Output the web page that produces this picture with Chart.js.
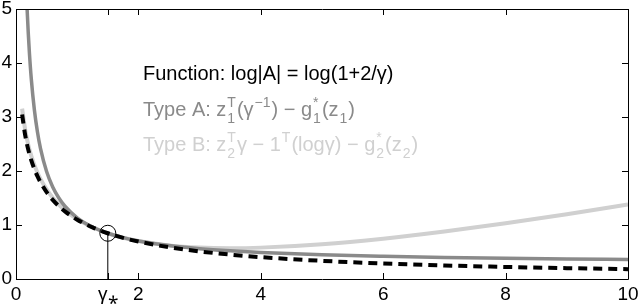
<!DOCTYPE html>
<html><head><meta charset="utf-8">
<script src="https://cdn.jsdelivr.net/npm/chart.js@4"></script>
<style>html,body{margin:0;padding:0;background:#fff;overflow:hidden}#wrap{width:640px;height:304px;position:relative}</style>
</head><body><div id="wrap"><canvas id="c" width="640" height="304"></canvas></div>
<script>
const gamma = [0.1,0.15,0.18,0.2,0.22,0.25,0.3,0.35,0.4,0.5,0.6,0.7,0.8,1.0,1.25,1.5,1.75,2,2.5,3,3.5,4,5,6,7,8,9,10];
const funcValues = [3.045,2.663,2.494,2.398,2.312,2.197,2.037,1.904,1.792,1.609,1.466,1.350,1.253,1.099,0.956,0.847,0.762,0.693,0.588,0.511,0.452,0.405,0.336,0.288,0.251,0.223,0.201,0.182];
const typeAValues = [null,null,5.037,4.561,4.171,3.704,3.133,2.725,2.419,1.990,1.704,1.500,1.347,1.133,0.962,0.847,0.766,0.705,0.619,0.562,0.521,0.490,0.447,0.419,0.398,0.383,0.371,0.362];
const typeBValues = [3.155,2.763,2.589,2.489,2.400,2.281,2.113,1.973,1.853,1.659,1.506,1.380,1.275,1.109,0.958,0.847,0.764,0.702,0.622,0.582,0.571,0.581,0.644,0.747,0.879,1.032,1.200,1.380];
const markerX = [1.5];
const markerY = [0.847];
const xTickValues = [0,1.5,2,4,6,8,10];
const xTickLabels = ['0','γ⁎','2','4','6','8','10'];
const yTickValues = [0,1,2,3,4,5];
const yTickLabels = ['0','1','2','3','4','5'];

const FAMILY = "'Liberation Sans', Arial, Helvetica, sans-serif";

const legendRows = [
  {color:'#000000', parts:[['n','Function: log|A| = log(1+2/γ)']]},
  {color:'#8a8a8a', parts:[['n','Type A: z'],['st','T','1'],['n','(γ'],['sup','−1'],['n',') − g'],['st','*','1'],['n','(z'],['sub','1'],['n',')']]},
  {color:'#d0d0d0', parts:[['n','Type B: z'],['st','T','2'],['n','γ − 1'],['sup','T'],['n','(logγ) − g'],['st','*','2'],['n','(z'],['sub','2'],['n',')']]}
];

const pts = (xs, ys) => xs.map((x,i)=>({x:x, y:ys[i]}));

const legendPlugin = {
  id:'legendText',
  afterDraw(chart){
    const ctx = chart.ctx;
    const x0 = 143, baselines = [80, 115.5, 151];
    const mainFont = '20px ' + FAMILY, smallFont = '14px ' + FAMILY;
    ctx.save();
    ctx.textBaseline = 'alphabetic';
    ctx.textAlign = 'left';
    legendRows.forEach((row, r)=>{
      let x = x0; const b = baselines[r];
      ctx.fillStyle = row.color;
      row.parts.forEach(p=>{
        if(p[0]==='n'){ ctx.font = mainFont; ctx.fillText(p[1], x, b); x += ctx.measureText(p[1]).width; }
        else if(p[0]==='sup'){ ctx.font = smallFont; ctx.fillText(p[1], x+1, b-9); x += ctx.measureText(p[1]).width+2; }
        else if(p[0]==='sub'){ ctx.font = smallFont; ctx.fillText(p[1], x+1, b+7); x += ctx.measureText(p[1]).width+2; }
        else { ctx.font = smallFont; const w1 = ctx.measureText(p[1]).width, w2 = ctx.measureText(p[2]).width;
          ctx.fillText(p[1], x+1, b-9); ctx.fillText(p[2], x+1, b+7); x += Math.max(w1,w2)+2; }
      });
    });
    ctx.restore();
  }
};

const framePlugin = {
  id:'frame',
  afterDraw(chart){
    const ctx = chart.ctx, a = chart.chartArea, xs = chart.scales.x, ys = chart.scales.y;
    ctx.save();
    ctx.strokeStyle = '#000'; ctx.lineWidth = 1;
    ctx.beginPath();
    ctx.rect(Math.round(a.left)+0.5, Math.round(a.top)+0.5, Math.round(a.right-a.left), Math.round(a.bottom-a.top));
    xTickValues.forEach(v=>{
      const px = Math.round(xs.getPixelForValue(v))+0.5;
      ctx.moveTo(px, a.bottom); ctx.lineTo(px, a.bottom-6);
      ctx.moveTo(px, a.top); ctx.lineTo(px, a.top+6);
    });
    yTickValues.forEach(v=>{
      const py = Math.round(ys.getPixelForValue(v))+0.5;
      ctx.moveTo(a.left, py); ctx.lineTo(a.left+6, py);
      ctx.moveTo(a.right, py); ctx.lineTo(a.right-6, py);
    });
    ctx.stroke();
    ctx.restore();
  }
};

new Chart(document.getElementById('c'), {
  type:'line',
  data:{datasets:[
    {label:'marker', data: pts(markerX, markerY), showLine:false, pointRadius:8, pointStyle:'circle',
     pointBackgroundColor:'rgba(0,0,0,0)', pointBorderColor:'#000', pointBorderWidth:1, order:0},
    {label:'drop', data: [{x:markerX[0], y:0},{x:markerX[0], y:markerY[0]}], borderColor:'#000', borderWidth:1, pointRadius:0, order:0},
    {label:'Function', data: pts(gamma, funcValues), borderColor:'#000', borderWidth:4, borderDash:[9,6], pointRadius:0, cubicInterpolationMode:'monotone', order:1},
    {label:'Type A', data: pts(gamma, typeAValues), borderColor:'#8a8a8a', borderWidth:3.5, pointRadius:0, cubicInterpolationMode:'monotone', order:2},
    {label:'Type B', data: pts(gamma, typeBValues), borderColor:'#d0d0d0', borderWidth:4, pointRadius:0, cubicInterpolationMode:'monotone', order:3}
  ]},
  options:{
    responsive:false, animation:false, devicePixelRatio:1,
    layout:{padding:{top:7,right:12,left:0,bottom:0}},
    plugins:{legend:{display:false}, tooltip:{enabled:false}},
    scales:{
      x:{type:'linear', min:0, max:10,
        grid:{display:false, drawTicks:false}, border:{display:false},
        afterBuildTicks:s=>{ s.ticks = xTickValues.map(v=>({value:v})); },
        ticks:{autoSkip:false, maxRotation:0, minRotation:0, padding:4, color:'#000', font:{family:FAMILY, size:19},
          callback:(v,i)=>xTickLabels[i]},
        afterFit:s=>{ s.height = 25; s.paddingLeft = 0; s.paddingRight = 0; }
      },
      y:{type:'linear', min:0, max:5,
        grid:{display:false, drawTicks:false}, border:{display:false},
        afterBuildTicks:s=>{ s.ticks = yTickValues.map(v=>({value:v})); },
        ticks:{autoSkip:false, padding:4, color:'#000', font:{family:FAMILY, size:19},
          callback:(v,i)=>yTickLabels[i]},
        afterFit:s=>{ s.width = 16; s.paddingTop = 0; s.paddingBottom = 0; }
      }
    }
  },
  plugins:[framePlugin, legendPlugin]
});
</script>
</body></html>
